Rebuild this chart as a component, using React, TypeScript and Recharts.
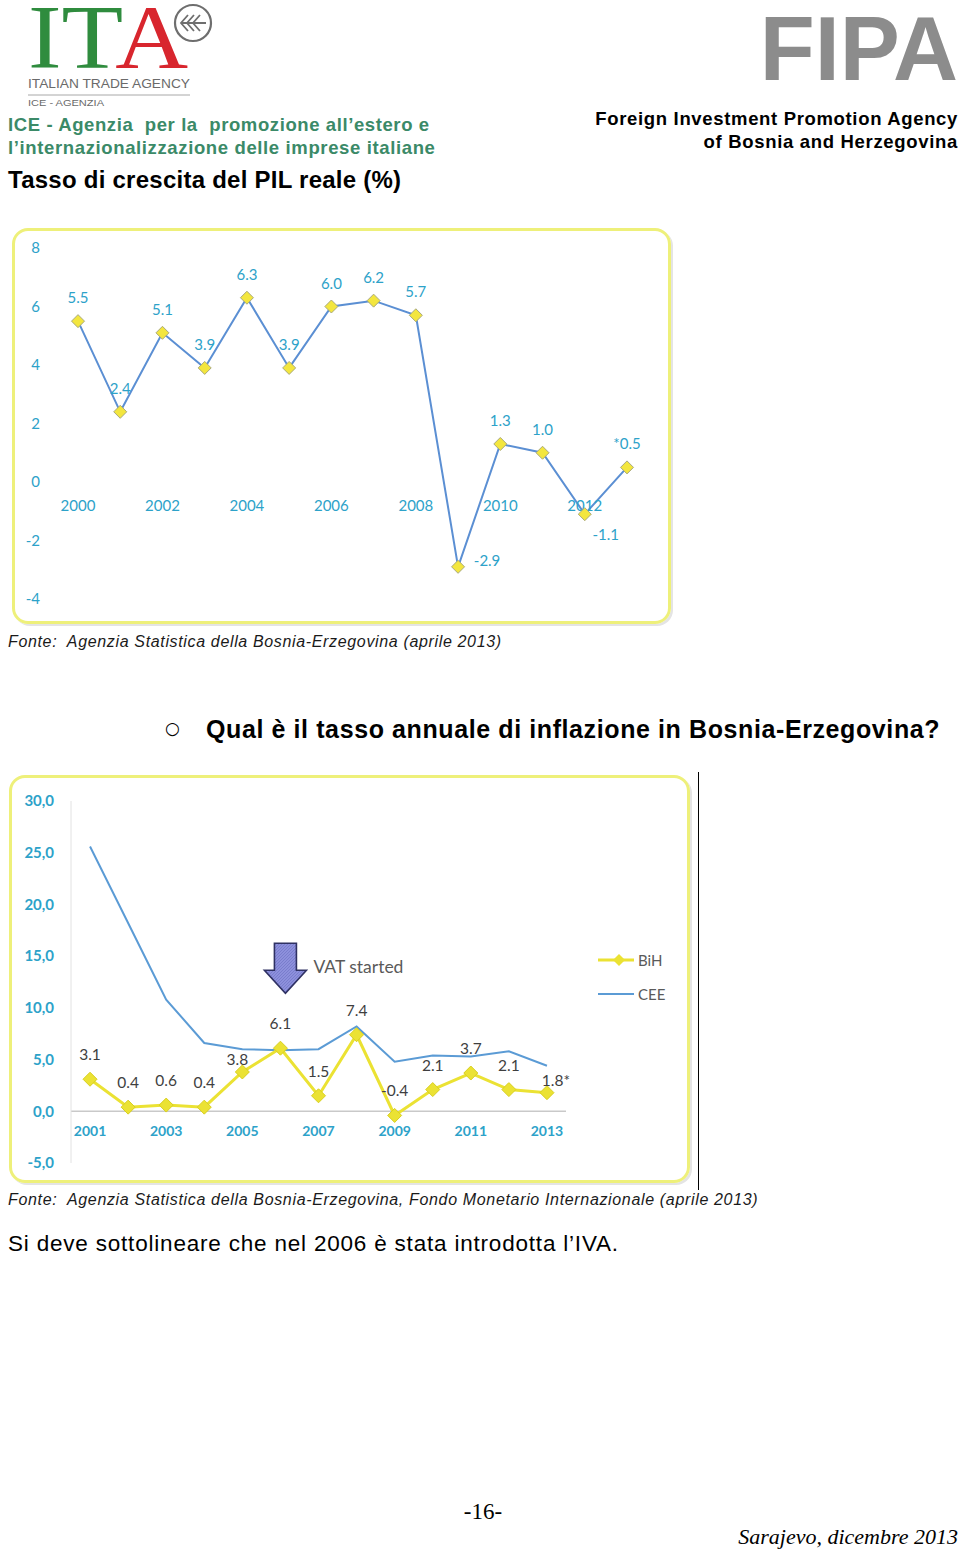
import React from 'react';
import { LineChart, Line, XAxis, YAxis, ReferenceLine, ReferenceDot, LabelList, Legend } from 'recharts';

// ---------- DATA ----------
const gdpYears = [2000, 2001, 2002, 2003, 2004, 2005, 2006, 2007, 2008, 2009, 2010, 2011, 2012, 2013];
const gdpGrowth = [5.5, 2.4, 5.1, 3.9, 6.3, 3.9, 6.0, 6.2, 5.7, -2.9, 1.3, 1.0, -1.1, 0.5];
const gdpYTicks = [-4, -2, 0, 2, 4, 6, 8];
const gdpYearTicks = [2000, 2002, 2004, 2006, 2008, 2010, 2012];
const gdpEstimatedYears = [2013];

const inflYears = [2001, 2002, 2003, 2004, 2005, 2006, 2007, 2008, 2009, 2010, 2011, 2012, 2013];
const inflBiH = [3.1, 0.4, 0.6, 0.4, 3.8, 6.1, 1.5, 7.4, -0.4, 2.1, 3.7, 2.1, 1.8];
const inflCEE = [25.6, 18.2, 10.8, 6.6, 6.0, 5.9, 6.0, 8.2, 4.8, 5.4, 5.3, 5.8, 4.4];
const inflYTicks = [-5, 0, 5, 10, 15, 20, 25, 30];
const inflYearTicks = [2001, 2003, 2005, 2007, 2009, 2011, 2013];
const inflEstimatedYears = [2013];
const vatYear = 2006;
const vatText = 'VAT started';
const seriesNames = ['BiH', 'CEE'];

const gdpData = gdpYears.map((year, i) => ({ year, value: gdpGrowth[i] }));
const inflData = inflYears.map((year, i) => ({ year, bih: inflBiH[i], cee: inflCEE[i] }));

// ---------- STYLE ----------
const SANS = '"Liberation Sans", Arial, Helvetica, sans-serif';
const SERIF = '"Liberation Serif", "Times New Roman", serif';
const CHART_FONT = 'Lato, "Open Sans", sans-serif';
const AXIS_BLUE = '#2da2c9';
const GDP_LINE = '#5b8fd3';
const BIH_YELLOW = '#ebe233';
const CEE_BLUE = '#5b9bd5';

// label shifts (rendering only): [dx, dy of baseline]
const gdpLabelShift: Record<number, [number, number]> = {
  2009: [29, -1],
  2012: [21, 26],
};
const inflLabelShift: Record<number, [number, number]> = {
  2005: [-5, -7],
  2013: [9, -7],
};

const pos = (p: any) => {
  const vb = p.viewBox || {};
  return { x: vb.x ?? p.x, y: vb.y ?? p.y };
};

const Diamond = (props: any) => {
  const { cx, cy, fill, stroke, size } = props;
  if (cx == null || cy == null) return <g />;
  const s = size || 6;
  return (
    <path
      d={`M${cx},${cy - s} L${cx + s},${cy} L${cx},${cy + s} L${cx - s},${cy} Z`}
      fill={fill}
      stroke={stroke}
      strokeWidth={1}
    />
  );
};

const YearLabel = (fontSize: number, offset: number, bold: boolean, text: string) => (p: any) => {
  const { x, y } = pos(p);
  return (
    <text x={x} y={y + offset} textAnchor="middle" fill={AXIS_BLUE} fontSize={fontSize}
      fontFamily={CHART_FONT} fontWeight={bold ? 700 : 400}>
      {text}
    </text>
  );
};

const GdpLabel = (p: any) => {
  const { x, y } = pos(p);
  const idx = p.index;
  const year = gdpYears[idx];
  const v = gdpGrowth[idx];
  const [dx, dy] = gdpLabelShift[year] || [0, -18];
  const txt = (gdpEstimatedYears.includes(year) ? '*' : '') + v.toFixed(1);
  return (
    <text x={x + dx} y={y + dy} textAnchor="middle" fill={AXIS_BLUE} fontSize={15} fontFamily={CHART_FONT}>
      {txt}
    </text>
  );
};

const InflLabel = (p: any) => {
  const { x, y } = pos(p);
  const idx = p.index;
  const year = inflYears[idx];
  const v = inflBiH[idx];
  const [dx, dy] = inflLabelShift[year] || [0, -19];
  const txt = v.toFixed(1) + (inflEstimatedYears.includes(year) ? '*' : '');
  return (
    <text x={x + dx} y={y + dy} textAnchor="middle" fill="#3f3f3f" fontSize={15.5} fontFamily={CHART_FONT}>
      {txt}
    </text>
  );
};

const VatArrow = (p: any) => {
  const { cx, cy } = p;
  if (cx == null || cy == null) return <g />;
  const tx = cx + 5;
  const ty = cy - 55;
  const pts = [
    [tx - 11, ty - 50], [tx + 11, ty - 50], [tx + 11, ty - 23], [tx + 21, ty - 23],
    [tx, ty], [tx - 21, ty - 23], [tx - 11, ty - 23],
  ].map((q) => q.join(',')).join(' ');
  return (
    <g>
      <defs>
        <pattern id="hatch" width="3" height="3" patternUnits="userSpaceOnUse">
          <rect width="3" height="3" fill="#8d90dc" />
          <path d="M0,3 L3,0" stroke="#7478c8" strokeWidth="0.8" />
        </pattern>
      </defs>
      <polygon points={pts} fill="url(#hatch)" stroke="#2f3163" strokeWidth={1.6} />
      <text x={cx + 33} y={cy - 75} fill="#5a5a5a" fontSize={17.5} fontFamily={CHART_FONT}>{vatText}</text>
    </g>
  );
};

const InflLegend = () => (
  <div style={{ fontFamily: CHART_FONT, fontSize: 15, color: '#5a5a5a' }}>
    <div style={{ display: 'flex', alignItems: 'center', height: 20 }}>
      <svg width={38} height={14}>
        <line x1={0} y1={7} x2={36} y2={7} stroke={BIH_YELLOW} strokeWidth={3} />
        <path d="M21,1 L27,7 L21,13 L15,7 Z" fill={BIH_YELLOW} />
      </svg>
      <span style={{ marginLeft: 2 }}>{seriesNames[0]}</span>
    </div>
    <div style={{ display: 'flex', alignItems: 'center', height: 20, marginTop: 14 }}>
      <svg width={38} height={14}>
        <line x1={0} y1={7} x2={36} y2={7} stroke={CEE_BLUE} strokeWidth={2} />
      </svg>
      <span style={{ marginLeft: 2 }}>{seriesNames[1]}</span>
    </div>
  </div>
);

const Abs = ({ x, y, children, style }: any) => (
  <div style={{ position: 'absolute', left: x, top: y, whiteSpace: 'nowrap', lineHeight: 1, ...style }}>
    {children}
  </div>
);

const ItaLogo = () => (
  <svg width={230} height={112} style={{ position: 'absolute', left: 0, top: 0, overflow: 'visible' }}>
    <text x={28} y={68} fontFamily={SERIF} fontSize={90} textLength={160} lengthAdjust="spacingAndGlyphs">
      <tspan fill="#2f8c3e">IT</tspan>
      <tspan fill="#d8262e">A</tspan>
    </text>
    <circle cx={193} cy={23} r={18} fill="none" stroke="#6e6e6e" strokeWidth={2.2} />
    <path d="M188,15 L181,23 L188,31 M194,15 L187,23 L194,31 M200,15 L193,23 L200,31 M181,23 L206,23"
      fill="none" stroke="#6e6e6e" strokeWidth={1.8} />
    <text x={28} y={88} fontFamily={SANS} fontSize={13} fill="#6a6a6a" textLength={162}
      lengthAdjust="spacingAndGlyphs">ITALIAN TRADE AGENCY</text>
    <line x1={28} y1={95} x2={190} y2={95} stroke="#a8a8a8" strokeWidth={1} />
    <text x={28} y={106} fontFamily={SANS} fontSize={9} fill="#6a6a6a" textLength={76}
      lengthAdjust="spacingAndGlyphs">ICE - AGENZIA</text>
  </svg>
);

export default function App() {
  return (
    <div style={{ position: 'absolute', left: 0, top: 0, width: 960, height: 1550, background: '#fff', overflow: 'hidden' }}>
      <ItaLogo />
      <Abs x={8} y={116} style={{ fontFamily: SANS, fontWeight: 700, fontSize: 18.5, letterSpacing: 0.6, color: '#3b8a68' }}>
        ICE - Agenzia&nbsp; per la&nbsp; promozione all’estero e
      </Abs>
      <Abs x={8} y={139} style={{ fontFamily: SANS, fontWeight: 700, fontSize: 18.5, letterSpacing: 0.63, color: '#3b8a68' }}>
        l’internazionalizzazione delle imprese italiane
      </Abs>
      <Abs x={8} y={168} style={{ fontFamily: SANS, fontWeight: 700, fontSize: 24, letterSpacing: 0.25, color: '#000' }}>
        Tasso di crescita del PIL reale (%)
      </Abs>

      <div style={{ position: 'absolute', left: 0, top: 4, width: 958, textAlign: 'right', fontFamily: SANS,
        fontWeight: 700, fontSize: 90, lineHeight: 1, color: '#8c8c8c', letterSpacing: 0 }}>FIPA</div>
      <div style={{ position: 'absolute', left: 0, top: 110, width: 958, textAlign: 'right', fontFamily: SANS,
        fontWeight: 700, fontSize: 18.5, lineHeight: 1, letterSpacing: 0.66, color: '#000' }}>Foreign Investment Promotion Agency</div>
      <div style={{ position: 'absolute', left: 0, top: 133, width: 958, textAlign: 'right', fontFamily: SANS,
        fontWeight: 700, fontSize: 18.5, lineHeight: 1, letterSpacing: 0.68, color: '#000' }}>of Bosnia and Herzegovina</div>

      {/* Chart 1 frame */}
      <div style={{ position: 'absolute', left: 12, top: 228, width: 659, height: 396, boxSizing: 'border-box',
        border: '3px solid #eef07a', borderRadius: 16, boxShadow: '2px 2px 0 #e4e4e4' }} />
      <div style={{ position: 'absolute', left: 12, top: 228 }}>
        <LineChart width={660} height={396} data={gdpData} margin={{ top: 20, right: 45, bottom: 25, left: 0 }}>
          <XAxis dataKey="year" type="number" domain={[2000, 2013]} hide />
          <YAxis type="number" domain={[-4, 8]} ticks={gdpYTicks} interval={0} width={66} axisLine={false}
            tickLine={false} tickSize={0} tickMargin={38}
            tick={{ fill: AXIS_BLUE, fontSize: 15, fontFamily: CHART_FONT }} />
          {gdpYearTicks.map((yr) => (
            <ReferenceDot key={yr} x={yr} y={0} r={0} fill="none" stroke="none"
              label={YearLabel(15, 29, false, String(yr))} />
          ))}
          <Line dataKey="value" stroke={GDP_LINE} strokeWidth={2} isAnimationActive={false}
            dot={<Diamond fill="#f3e63e" stroke="#a9a97c" size={6.5} />} activeDot={false}>
            <LabelList dataKey="value" content={GdpLabel} />
          </Line>
        </LineChart>
      </div>

      <Abs x={8} y={634} style={{ fontFamily: SANS, fontStyle: 'italic', fontSize: 16, letterSpacing: 0.65, color: '#1a1a1a' }}>
        Fonte:&nbsp; Agenzia Statistica della Bosnia-Erzegovina (aprile 2013)
      </Abs>

      <Abs x={165} y={720} style={{ fontFamily: '"DejaVu Sans", sans-serif', fontSize: 17, color: '#000' }}>○</Abs>
      <Abs x={206} y={717} style={{ fontFamily: SANS, fontWeight: 700, fontSize: 25, letterSpacing: 0.6, color: '#000' }}>
        Qual è il tasso annuale di inflazione in Bosnia-Erzegovina?
      </Abs>

      {/* Chart 2 frame */}
      <div style={{ position: 'absolute', left: 9, top: 775, width: 681, height: 408, boxSizing: 'border-box',
        border: '3px solid #eef07a', borderRadius: 16, boxShadow: '2px 2px 0 #e4e4e4' }} />
      <div style={{ position: 'absolute', left: 698, top: 772, width: 1, height: 418, background: '#000' }} />
      <div style={{ position: 'absolute', left: 10, top: 775 }}>
        <LineChart width={680} height={408} data={inflData} margin={{ top: 26, right: 124, bottom: 20, left: 0 }}>
          <XAxis dataKey="year" type="number" domain={[2000.5, 2013.5]} hide />
          <YAxis type="number" domain={[-5, 30]} ticks={inflYTicks} interval={0} width={61}
            axisLine={{ stroke: '#e2e2e2' }} tickLine={false} tickSize={0} tickMargin={17}
            tickFormatter={(v: number) => v.toFixed(1).replace('.', ',')}
            tick={{ fill: AXIS_BLUE, fontSize: 15, fontFamily: CHART_FONT, fontWeight: 700 }} />
          <ReferenceLine y={0} stroke="#c9c9c9" strokeWidth={1.5} />
          {inflYearTicks.map((yr) => (
            <ReferenceDot key={yr} x={yr} y={0} r={0} fill="none" stroke="none"
              label={YearLabel(14, 25, true, String(yr))} />
          ))}
          <Line dataKey="cee" stroke={CEE_BLUE} strokeWidth={2} dot={false} activeDot={false} isAnimationActive={false} />
          <Line dataKey="bih" stroke={BIH_YELLOW} strokeWidth={3} isAnimationActive={false}
            dot={<Diamond fill={BIH_YELLOW} stroke="#d8cf20" size={7} />} activeDot={false}>
            <LabelList dataKey="bih" content={InflLabel} />
          </Line>
          <ReferenceDot x={vatYear} y={inflBiH[inflYears.indexOf(vatYear)]} r={0} shape={VatArrow} />
          <Legend layout="vertical" align="center" verticalAlign="middle" content={InflLegend}
            wrapperStyle={{ left: 588, top: 175, width: 90, height: 60 }} />
        </LineChart>
      </div>

      <Abs x={8} y={1192} style={{ fontFamily: SANS, fontStyle: 'italic', fontSize: 16, letterSpacing: 0.66, color: '#1a1a1a' }}>
        Fonte:&nbsp; Agenzia Statistica della Bosnia-Erzegovina, Fondo Monetario Internazionale (aprile 2013)
      </Abs>
      <Abs x={8} y={1233} style={{ fontFamily: SANS, fontSize: 22.5, letterSpacing: 0.8, color: '#000' }}>
        Si deve sottolineare che nel 2006 è stata introdotta l’IVA.
      </Abs>

      <div style={{ position: 'absolute', left: 0, top: 1500, width: 966, textAlign: 'center', fontFamily: SERIF,
        fontSize: 23, lineHeight: 1, color: '#000' }}>-16-</div>
      <div style={{ position: 'absolute', left: 0, top: 1526, width: 958, textAlign: 'right', fontFamily: SERIF,
        fontStyle: 'italic', fontSize: 22, lineHeight: 1, color: '#000' }}>Sarajevo, dicembre 2013</div>
    </div>
  );
}
